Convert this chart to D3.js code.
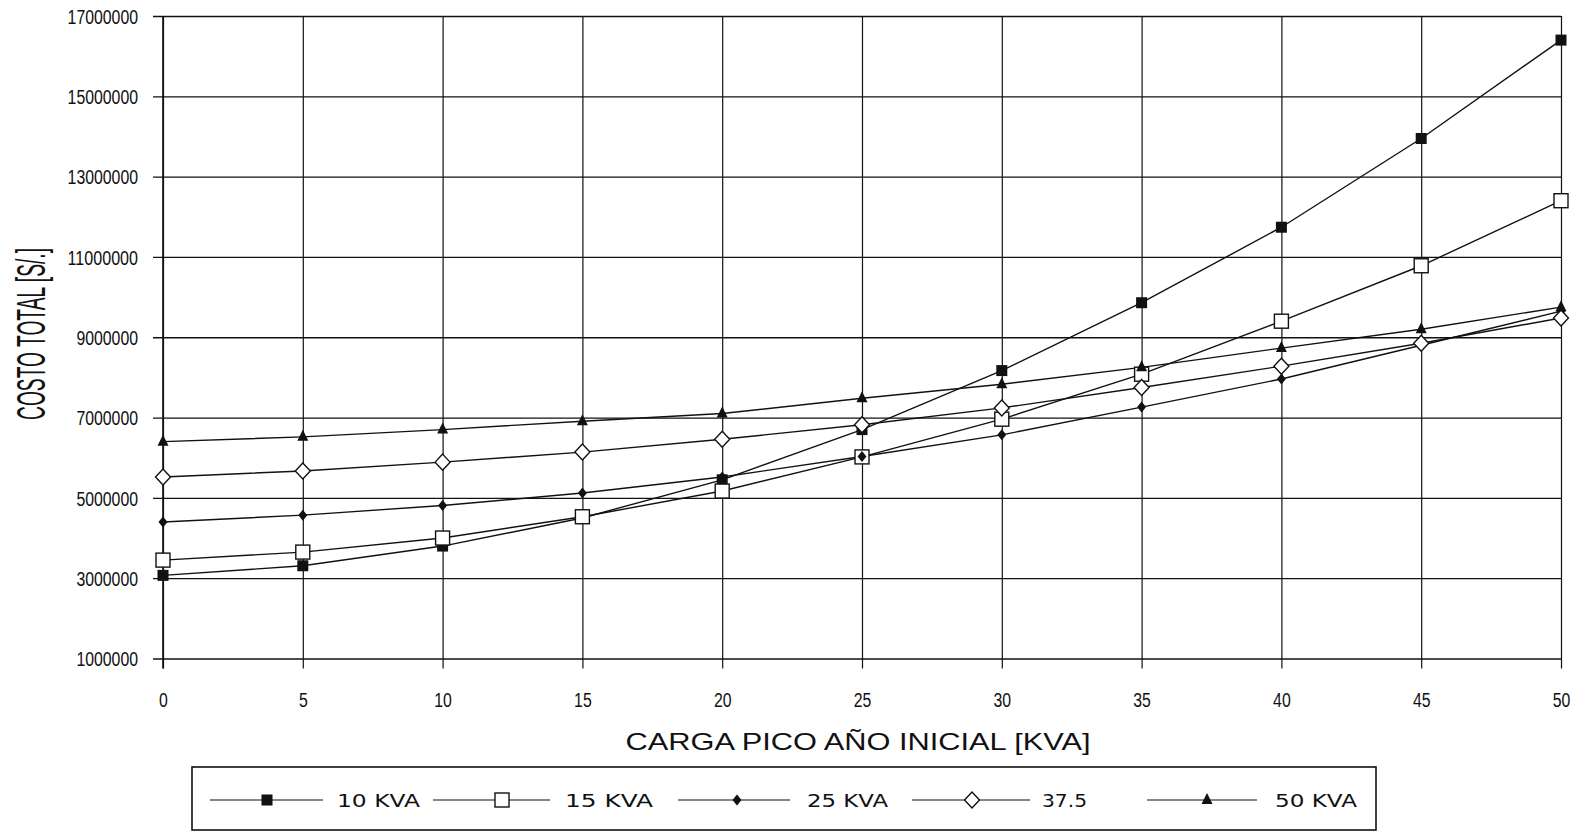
<!DOCTYPE html>
<html>
<head>
<meta charset="utf-8">
<script src="https://cdn.jsdelivr.net/npm/d3@7"></script>
<style>
  html, body { margin: 0; padding: 0; background: #fff; }
  svg { display: block; }
</style>
</head>
<body>
<svg id="chart" width="1583" height="832"></svg>
<script>
// Peak load in the initial year [KVA]
const cargaPico = [0, 5, 10, 15, 20, 25, 30, 35, 40, 45, 50];

// Total cost [S/.] for each transformer rating
const costo10 = [3070000, 3310000, 3800000, 4500000, 5450000, 6700000, 8170000, 9860000, 11740000, 13950000, 16400000];
const costo15 = [3450000, 3650000, 4000000, 4530000, 5170000, 6020000, 6960000, 8080000, 9400000, 10780000, 12400000];
const costo25 = [4400000, 4570000, 4810000, 5120000, 5520000, 6030000, 6570000, 7260000, 7960000, 8800000, 9650000];
const costo375 = [5520000, 5670000, 5890000, 6140000, 6460000, 6820000, 7240000, 7750000, 8280000, 8850000, 9480000];
const costo50 = [6400000, 6520000, 6700000, 6910000, 7100000, 7480000, 7830000, 8250000, 8730000, 9200000, 9750000];

const seriesNames = ["10 KVA", "15 KVA", "25 KVA", "37.5", "50 KVA"];
const xTicks = [0, 5, 10, 15, 20, 25, 30, 35, 40, 45, 50];
const yTicks = [1000000, 3000000, 5000000, 7000000, 9000000, 11000000, 13000000, 15000000, 17000000];

const series = [
  { name: seriesNames[0], values: costo10, marker: "squareFilled" },
  { name: seriesNames[1], values: costo15, marker: "squareOpen" },
  { name: seriesNames[2], values: costo25, marker: "diamondFilled" },
  { name: seriesNames[3], values: costo375, marker: "diamondOpen" },
  { name: seriesNames[4], values: costo50, marker: "triangle" }
];

const svg = d3.select("#chart");
const plotLeft = 163, plotRight = 1561, plotTop = 16, plotBottom = 658.5;

const x = d3.scaleLinear().domain([0, 50]).range([plotLeft, plotRight]);
const y = d3.scaleLinear().domain([1000000, 17000000]).range([plotBottom, plotTop]);

const ink = "#111";
const sans = "'Liberation Sans', Arial, sans-serif";
// condensed digits: fixed advance per character
const digitW = 8.8;

// Horizontal grid with outward ticks on the left
const yAxis = d3.axisLeft(y).tickValues(yTicks).tickSize(-(plotRight - plotLeft)).tickSizeOuter(0)
  .tickFormat(d3.format("d"));
const gy = svg.append("g").attr("transform", `translate(${plotLeft},0)`).call(yAxis);
gy.select(".domain").remove();
gy.selectAll(".tick line").attr("stroke", ink).attr("stroke-width", 1.3)
  .attr("x1", -10);
gy.selectAll(".tick text").attr("font-family", sans).attr("font-size", 20)
  .attr("fill", ink).attr("x", -25).attr("dy", "0.36em")
  .attr("textLength", d => String(d).length * digitW).attr("lengthAdjust", "spacingAndGlyphs");

// Vertical grid with outward ticks at the bottom
const xAxis = d3.axisBottom(x).tickValues(xTicks).tickSize(-(plotBottom - plotTop)).tickSizeOuter(0)
  .tickPadding(0);
const gx = svg.append("g").attr("transform", `translate(0,${plotBottom})`).call(xAxis);
gx.select(".domain").remove();
gx.selectAll(".tick line").attr("stroke", ink).attr("stroke-width", 1.2).attr("y1", 10);
gx.selectAll(".tick text").attr("font-family", sans).attr("font-size", 20)
  .attr("fill", ink).attr("y", 48).attr("dy", 0)
  .attr("textLength", d => String(d).length * digitW).attr("lengthAdjust", "spacingAndGlyphs");

// Left axis line
svg.append("line").attr("x1", plotLeft).attr("x2", plotLeft).attr("y1", plotTop).attr("y2", plotBottom + 10)
  .attr("stroke", ink).attr("stroke-width", 1.6);

// Axis titles
svg.append("text")
  .attr("transform", "translate(45,334) rotate(-90)")
  .attr("text-anchor", "middle")
  .attr("font-family", sans).attr("font-size", 41)
  .attr("textLength", 172).attr("lengthAdjust", "spacingAndGlyphs")
  .attr("fill", ink)
  .text("COSTO TOTAL [S/.]");

svg.append("text")
  .attr("x", 858).attr("y", 750)
  .attr("text-anchor", "middle")
  .attr("font-family", sans).attr("font-size", 24)
  .attr("textLength", 465).attr("lengthAdjust", "spacingAndGlyphs")
  .attr("fill", ink)
  .text("CARGA PICO AÑO INICIAL [KVA]");

// Marker drawing
function drawMarker(g, type, cx, cy) {
  switch (type) {
    case "squareFilled":
      g.append("rect").attr("x", cx - 5.5).attr("y", cy - 5.5).attr("width", 11).attr("height", 11)
        .attr("fill", ink);
      break;
    case "squareOpen":
      g.append("rect").attr("x", cx - 7).attr("y", cy - 7).attr("width", 14).attr("height", 14)
        .attr("fill", "#fff").attr("stroke", ink).attr("stroke-width", 1.4);
      break;
    case "diamondFilled":
      g.append("path").attr("d", `M${cx},${cy - 5.5}L${cx + 4.5},${cy}L${cx},${cy + 5.5}L${cx - 4.5},${cy}Z`)
        .attr("fill", ink);
      break;
    case "diamondOpen":
      g.append("path").attr("d", `M${cx},${cy - 8}L${cx + 7.5},${cy}L${cx},${cy + 8}L${cx - 7.5},${cy}Z`)
        .attr("fill", "#fff").attr("stroke", ink).attr("stroke-width", 1.4);
      break;
    case "triangle":
      g.append("path").attr("d", `M${cx},${cy - 7}L${cx + 5.5},${cy + 4}L${cx - 5.5},${cy + 4}Z`)
        .attr("fill", ink);
      break;
  }
}

// Series lines and markers
const line = d3.line().x((d, i) => x(cargaPico[i])).y(d => y(d));
const plot = svg.append("g");
series.forEach(s => {
  plot.append("path").datum(s.values).attr("d", line)
    .attr("fill", "none").attr("stroke", ink).attr("stroke-width", 1.4);
});
series.forEach(s => {
  const g = plot.append("g");
  s.values.forEach((v, i) => drawMarker(g, s.marker, x(cargaPico[i]), y(v)));
});

// Legend
const legend = svg.append("g");
legend.append("rect").attr("x", 192).attr("y", 767).attr("width", 1184).attr("height", 63)
  .attr("fill", "#fff").attr("stroke", ink).attr("stroke-width", 1.6);
const legendItems = [
  { x1: 210, x2: 323, mx: 267, tx: 337, tw: 83 },
  { x1: 433, x2: 550, mx: 502, tx: 565, tw: 88 },
  { x1: 678, x2: 790, mx: 737, tx: 807, tw: 81 },
  { x1: 912, x2: 1030, mx: 972, tx: 1042, tw: 45 },
  { x1: 1147, x2: 1257, mx: 1207, tx: 1275, tw: 82 }
];
const ly = 800;
series.forEach((s, i) => {
  const it = legendItems[i];
  const g = legend.append("g");
  g.append("line").attr("x1", it.x1).attr("x2", it.x2).attr("y1", ly).attr("y2", ly)
    .attr("stroke", ink).attr("stroke-width", 1.2);
  drawMarker(g, s.marker, it.mx, ly);
  g.append("text").attr("x", it.tx).attr("y", ly + 6.5)
    .attr("font-family", "'DejaVu Sans', Verdana, sans-serif").attr("font-size", 17)
    .attr("textLength", it.tw).attr("lengthAdjust", "spacingAndGlyphs")
    .attr("fill", ink).text(s.name);
});
</script>
</body>
</html>
